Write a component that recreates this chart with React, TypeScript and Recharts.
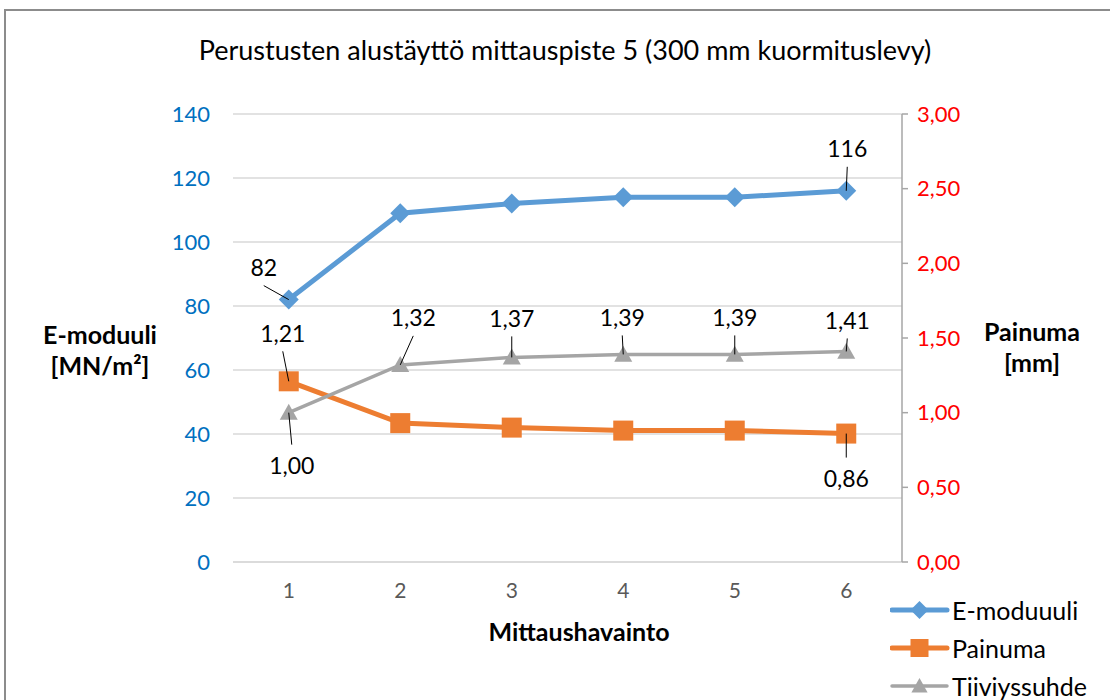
import { ComposedChart, Line, XAxis, YAxis, CartesianGrid, Legend } from "recharts";

const categories = ["1", "2", "3", "4", "5", "6"];
const eModuuli = [82, 109, 112, 114, 114, 116];
const painuma = [1.21, 0.93, 0.9, 0.88, 0.88, 0.86];
const tiiviyssuhde = [1.0, 1.32, 1.37, 1.39, 1.39, 1.41];
const leftTicks = [0, 20, 40, 60, 80, 100, 120, 140];
const rightTicks = [0, 0.5, 1, 1.5, 2, 2.5, 3];

const FONT = "Lato, 'Noto Sans', sans-serif";

const data = categories.map((c, i) => ({
  kerta: c,
  e: eModuuli[i],
  p: painuma[i],
  t: tiiviyssuhde[i],
}));

const fmt2 = (v: number) => v.toFixed(2).replace(".", ",");

// where each data label sits relative to its point (null = no label)
const blueLabels: ([number, number] | null)[] = [[-25, -32], null, null, null, null, [1, -42]];
const orangeLabels: ([number, number] | null)[] = [[-6, -48], null, null, null, null, [0, 45]];
const grayLabels: ([number, number] | null)[] = [[3, 53], [13, -47], [0, -39], [-1, -37], [0, -37], [1, -31]];

type Shape = "diamond" | "square" | "triangle";

const marker = (shape: Shape, x: number, y: number, color: string, s = 1) => {
  if (shape === "diamond") {
    const r = 10 * s;
    return <polygon points={`${x},${y - r} ${x + r},${y} ${x},${y + r} ${x - r},${y}`} fill={color} />;
  }
  if (shape === "square") {
    const r = 10 * s;
    return <rect x={x - r} y={y - r} width={2 * r} height={2 * r} fill={color} />;
  }
  const w = 9 * s;
  const h = 16 * s;
  return <polygon points={`${x},${y - h * 0.55} ${x + w},${y + h * 0.45} ${x - w},${y + h * 0.45}`} fill={color} />;
};

const makeDot =
  (shape: Shape, color: string, labels: ([number, number] | null)[], format: (v: number) => string) =>
  (props: any) => {
    const { cx, cy, index, value } = props;
    const off = labels[index];
    let label = null;
    if (off) {
      const lx = cx + off[0];
      const ly = cy + off[1];
      const sy = off[1] < 0 ? ly + 18 : ly - 21;
      const dist = Math.hypot(lx - cx, sy - cy);
      label = (
        <g>
          {dist > 8 && <line x1={lx} y1={sy} x2={cx} y2={cy} stroke="#000" strokeWidth={1} />}
          <text x={lx} y={ly} dy="0.36em" textAnchor="middle" fontSize={23} fontFamily={FONT} fill="#000">
            {format(value)}
          </text>
        </g>
      );
    }
    return (
      <g key={`dot-${shape}-${index}`}>
        {marker(shape, cx, cy, color)}
        {label}
      </g>
    );
  };

const series = [
  { name: "E-moduuuli", color: "#5B9BD5", shape: "diamond" as Shape, width: 5 },
  { name: "Painuma", color: "#ED7D31", shape: "square" as Shape, width: 5 },
  { name: "Tiiviyssuhde", color: "#A5A5A5", shape: "triangle" as Shape, width: 3.5 },
];

const LegendContent = () => (
  <div style={{ fontFamily: FONT, fontSize: 25, color: "#000" }}>
    {series.map((s) => (
      <div key={s.name} style={{ display: "flex", alignItems: "center", height: 38 }}>
        <svg width={60} height={24}>
          <line x1={2} y1={12} x2={57} y2={12} stroke={s.color} strokeWidth={s.width} strokeLinecap="round" />
          {marker(s.shape, 29.5, 12, s.color, 0.9)}
        </svg>
        <span style={{ marginLeft: 2 }}>{s.name}</span>
      </div>
    ))}
  </div>
);

const App = () => {
  return (
    <div style={{ position: "absolute", left: 0, top: 0, width: 1110, height: 700, background: "#fff", overflow: "hidden" }}>
      <div
        style={{
          position: "absolute",
          left: 4,
          top: 9,
          width: 1120,
          height: 720,
          border: "2px solid #8c8c8c",
          boxSizing: "border-box",
        }}
      />
      <div
        style={{
          position: "absolute",
          left: 0,
          width: 1130,
          top: 33,
          textAlign: "center",
          fontFamily: FONT,
          fontSize: 27,
          color: "#000",
        }}
      >
        Perustusten alustäyttö mittauspiste 5 (300 mm kuormituslevy)
      </div>
      <ComposedChart
        width={1110}
        height={700}
        data={data}
        margin={{ top: 114, right: 108, bottom: 88, left: 133 }}
        style={{ position: "absolute", left: 0, top: 0 }}
      >
        <CartesianGrid yAxisId="left" vertical={false} stroke="#d9d9d9" strokeWidth={1.5} />
        <XAxis
          dataKey="kerta"
          scale="band"
          height={50}
          axisLine={{ stroke: "#d9d9d9", strokeWidth: 1.5 }}
          tickLine={false}
          tickMargin={15}
          tick={{ fill: "#595959", fontSize: 21, fontFamily: FONT }}
          label={{
            content: (p: any) => (
              <text
                x={579}
                y={641}
                textAnchor="middle"
                fontSize={25}
                fontWeight="bold"
                fontFamily={FONT}
                fill="#000"
              >
                Mittaushavainto
              </text>
            ),
          }}
        />
        <YAxis
          yAxisId="left"
          width={100}
          domain={[0, 140]}
          ticks={leftTicks}
          axisLine={false}
          tickLine={false}
          tickMargin={17}
          tick={{ fill: "#0070C0", fontSize: 22, fontFamily: FONT }}
          label={{
            content: () => (
              <text textAnchor="middle" fontSize={25} fontWeight="bold" fontFamily={FONT} fill="#000">
                <tspan x={100} y={344}>E-moduuli</tspan>
                <tspan x={100} y={375}>[MN/m²]</tspan>
              </text>
            ),
          }}
        />
        <YAxis
          yAxisId="right"
          orientation="right"
          width={100}
          domain={[0, 3]}
          ticks={rightTicks}
          tickFormatter={fmt2}
          axisLine={{ stroke: "#a6a6a6", strokeWidth: 1.5 }}
          tickLine={{ stroke: "#a6a6a6", strokeWidth: 1.5 }}
          tickSize={6}
          tickMargin={9}
          tick={{ fill: "#FF0000", fontSize: 22, fontFamily: FONT }}
          label={{
            content: () => (
              <text textAnchor="middle" fontSize={25} fontWeight="bold" fontFamily={FONT} fill="#000">
                <tspan x={1032} y={341}>Painuma</tspan>
                <tspan x={1032} y={372}>[mm]</tspan>
              </text>
            ),
          }}
        />
        <Legend
          layout="vertical"
          align="center"
          verticalAlign="middle"
          wrapperStyle={{ left: 890, top: 591, width: 220 }}
          content={<LegendContent />}
        />
        <Line
          yAxisId="left"
          dataKey="e"
          name="E-moduuuli"
          stroke="#5B9BD5"
          strokeWidth={5}
          dot={makeDot("diamond", "#5B9BD5", blueLabels, (v) => String(v))}
          activeDot={false}
          isAnimationActive={false}
        />
        <Line
          yAxisId="right"
          dataKey="p"
          name="Painuma"
          stroke="#ED7D31"
          strokeWidth={5}
          dot={makeDot("square", "#ED7D31", orangeLabels, fmt2)}
          activeDot={false}
          isAnimationActive={false}
        />
        <Line
          yAxisId="right"
          dataKey="t"
          name="Tiiviyssuhde"
          stroke="#A5A5A5"
          strokeWidth={3.5}
          dot={makeDot("triangle", "#A5A5A5", grayLabels, fmt2)}
          activeDot={false}
          isAnimationActive={false}
        />
      </ComposedChart>
    </div>
  );
};

export default App;
